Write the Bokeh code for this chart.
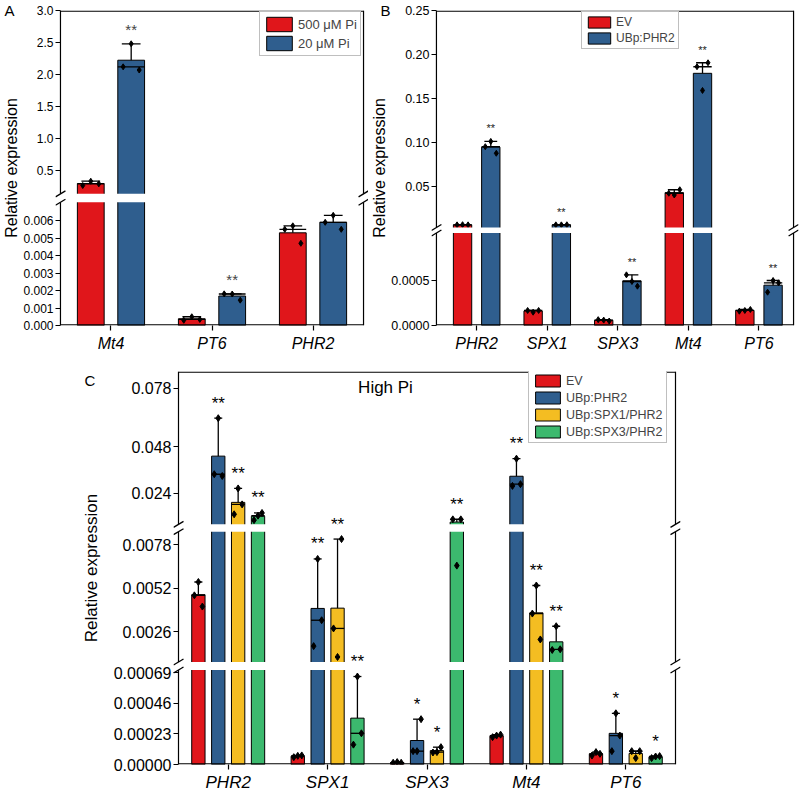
import numpy as np
from bokeh.plotting import figure
from bokeh.models import (Range1d, LinearAxis, FixedTicker, CustomJSTickFormatter,
                          BoxAnnotation, PolyAnnotation, Label, Legend, LegendItem,
                          ColumnDataSource)
from bokeh.layouts import column, row
from bokeh.core.properties import value
from bokeh.embed import file_html
from bokeh.resources import INLINE

FONT = "Liberation Sans"

# ---------------- Panel A data ----------------
A_genes = ["Mt4", "PT6", "PHR2"]
A_series = ["500 μM Pi", "20 μM Pi"]
A_pts_500 = [[0.266, 0.333, 0.292], [0.00030, 0.00050, 0.00035], [0.0055, 0.0057, 0.0047]]
A_pts_20 = [[2.12, 2.48, 2.07], [0.00181, 0.00180, 0.00145], [0.0059, 0.0063, 0.0055]]
A_sig_500 = ["", "", ""]
A_sig_20 = ["**", "**", ""]
A_seg_ranges = [(0.0, 0.00705), (0.136, 3.0)]
A_ticks_low = [0.000, 0.001, 0.002, 0.003, 0.004, 0.005, 0.006]
A_ticks_high = [0.5, 1.0, 1.5, 2.0, 2.5, 3.0]

# ---------------- Panel B data ----------------
B_genes = ["PHR2", "SPX1", "SPX3", "Mt4", "PT6"]
B_series = ["EV", "UBp:PHR2"]
B_pts_EV = [[0.0060, 0.0062, 0.0060], [0.000167, 0.000148, 0.000167],
            [0.000065, 0.000060, 0.000050], [0.042, 0.040, 0.046],
            [0.000159, 0.000167, 0.000178]]
B_pts_PHR2 = [[0.095, 0.101, 0.0875], [0.0060, 0.0060, 0.0061],
              [0.000563, 0.000489, 0.000437], [0.186, 0.159, 0.1905],
              [0.00037, 0.00050, 0.000474]]
B_sig_EV = ["", "", "", "", ""]
B_sig_PHR2 = ["**", "**", "**", "**", "**"]
B_seg_ranges = [(0.0, 0.001028), (0.003, 0.25)]
B_ticks_low = [0.0000, 0.0005]
B_ticks_high = [0.05, 0.10, 0.15, 0.20, 0.25]

# ---------------- Panel C data ----------------
C_genes = ["PHR2", "SPX1", "SPX3", "Mt4", "PT6"]
C_series = ["EV", "UBp:PHR2", "UBp:SPX1/PHR2", "UBp:SPX3/PHR2"]
C_pts_EV = [[0.00478, 0.00558, 0.00411], [0.000055, 0.000065, 0.000068],
            [0.000013, 0.000018, 0.000013], [0.000205, 0.000217, 0.000224],
            [0.000067, 0.000093, 0.000080]]
C_pts_PHR2 = [[0.0339, 0.0627, 0.0330], [0.00174, 0.00696, 0.00329],
              [0.00010, 0.00010, 0.00034], [0.0279, 0.0419, 0.0288],
              [0.00010, 0.000384, 0.000217]]
C_pts_SPX1 = [[0.0133, 0.0266, 0.0184], [0.0028, 0.00109, 0.00815],
              [0.000090, 0.000093, 0.00013], [0.00369, 0.00537, 0.00214],
              [0.00010, 0.000048, 0.00010]]
C_pts_SPX3 = [[0.0103, 0.0126, 0.0140], [0.000149, 0.00066, 0.000234],
              [0.0107, 0.00656, 0.0107], [0.00151, 0.00293, 0.00155],
              [0.000048, 0.000060, 0.000063]]
C_sig_EV = ["", "", "", "", ""]
C_sig_PHR2 = ["**", "**", "*", "**", "*"]
C_sig_SPX1 = ["**", "**", "*", "**", ""]
C_sig_SPX3 = ["**", "**", "**", "**", "*"]
C_seg_ranges = [(0.0, 0.000709), (0.000789, 0.008592), (0.008143, 0.0867)]
C_ticks_low = [0.0, 0.00023, 0.00046, 0.00069]
C_ticks_mid = [0.0026, 0.0052, 0.0078]
C_ticks_high = [0.024, 0.048, 0.078]

RED, BLUE, YELLOW, GREEN = "#E0161B", "#2F5E8E", "#F4BD22", "#3CB96E"

JS = """
let b = 0, d = Infinity;
for (let i = 0; i < pos.length; i++) { const e = Math.abs(pos[i] - tick); if (e < d) { d = e; b = i; } }
return lab[b];
"""
PAD = 5  # px between frame edge and drawn axis box


def line(p, xs, ys, w=1.2):
    p.add_layout(PolyAnnotation(xs=list(xs), ys=list(ys), fill_color=None, fill_alpha=0,
                                line_color="black", line_alpha=1, line_width=w))


def make_panel(genes, series, colors, pts, sigs, seg_vals, seg_fracs, seg_ticks, seg_fmts,
               W, Hc, borders, xr, offsets, bw, cap_frac, pt_size, tick_fs, xlab_fs, xlab_so,
               ylab_fs, ylab_so, star_fs, star_off, star_color, letter, letter_off, letter_so):
    bl, br, bt, bb = borders
    fw = W - bl - br
    H = Hc - bt - bb
    x0, x1 = xr
    ppu = (fw - 2 * PAD) / (x1 - x0)
    p = figure(width=W, height=Hc, x_range=Range1d(x0 - PAD / ppu, x1 + PAD / ppu),
               y_range=Range1d(0, H), x_axis_type=None, y_axis_type=None,
               output_backend="svg", toolbar_location=None, min_border_left=bl,
               min_border_right=br, min_border_top=bt, min_border_bottom=bb)
    p.outline_line_color = None
    p.title.text = letter
    p.title.align = "left"
    p.title.vertical_align = "bottom"
    p.title.offset = letter_off
    p.title.standoff = letter_so
    p.title.text_font = FONT
    p.title.text_font_size = "15px"
    p.title.text_font_style = "normal"
    p.title.text_color = "black"

    segs, extra = [], {}
    for i, ((lo, hi), (flo, fhi)) in enumerate(zip(seg_vals, seg_fracs)):
        plo, phi = flo * H, fhi * H
        k = (hi - lo) / (phi - plo)
        name = "s%d" % i
        extra[name] = Range1d(lo - plo * k, hi + (H - phi) * k)
        segs.append(dict(lo=lo, hi=hi, plo=plo, phi=phi, k=k, name=name))
    p.extra_y_ranges = extra
    n = len(segs)
    for i, s in enumerate(segs):
        s["clo"] = s["lo"] - (s["plo"] - segs[i - 1]["phi"]) / 2 * s["k"] if i > 0 else s["lo"]
        s["chi"] = s["hi"] + (segs[i + 1]["plo"] - s["phi"]) / 2 * s["k"] if i < n - 1 else s["hi"]

    def seg_of(v):
        for s in segs:
            if s["clo"] <= v <= s["chi"]:
                return s
        return segs[-1]

    bars = []
    for j in range(len(series)):
        for g in range(len(genes)):
            v = np.array(pts[j][g], dtype=float)
            bars.append(dict(j=j, x=g + offsets[j], mean=v.mean(), med=float(np.median(v)),
                             mx=v.max(), pts=v, sig=sigs[j][g]))

    legend_r = {}
    for s in segs:
        for j in range(len(series)):
            bs = [b for b in bars if b["j"] == j and b["mean"] > s["lo"]]
            src = ColumnDataSource(dict(x=[b["x"] for b in bs],
                                        top=[min(b["mean"], s["chi"]) for b in bs],
                                        bottom=[s["clo"]] * len(bs)))
            r = p.vbar(x="x", top="top", bottom="bottom", width=bw, source=src,
                       y_range_name=s["name"], fill_color=colors[j], line_color="black",
                       line_width=1)
            legend_r.setdefault(j, r)

    for s in segs:
        X0, X1, Y0, Y1 = [], [], [], []
        px, py = [], []
        sx, sy, st = [], [], []
        for b in bars:
            ya, yb = max(b["mean"], s["clo"]), min(b["mx"], s["chi"])
            if yb > ya:
                X0.append(b["x"]); X1.append(b["x"]); Y0.append(ya); Y1.append(yb)
            if seg_of(b["mx"]) is s:
                X0.append(b["x"] - cap_frac * bw / 2); X1.append(b["x"] + cap_frac * bw / 2)
                Y0.append(b["mx"]); Y1.append(b["mx"])
                if b["sig"]:
                    sx.append(b["x"]); sy.append(b["mx"]); st.append(b["sig"])
            if seg_of(b["med"]) is s:
                X0.append(b["x"] - bw / 2); X1.append(b["x"] + bw / 2)
                Y0.append(b["med"]); Y1.append(b["med"])
            for q, v in enumerate(b["pts"]):
                if seg_of(v) is s:
                    px.append(b["x"] + (q - 1) * 0.3 * bw); py.append(v)
        p.segment(x0=X0, y0=Y0, x1=X1, y1=Y1, y_range_name=s["name"],
                  line_color="black", line_width=1.3)
        p.scatter(x=px, y=py, marker="diamond", size=pt_size, fill_color="black",
                  line_color="black", y_range_name=s["name"])
        if sx:
            p.text(x=sx, y=sy, text=st, y_range_name=s["name"], text_align="center",
                   text_baseline="alphabetic", text_font=value(FONT),
                   text_font_size=value("%dpx" % star_fs), y_offset=star_off,
                   text_color=star_color, level="overlay")

    vpos, labs = [], []
    for s, ticks, fmt in zip(segs, seg_ticks, seg_fmts):
        for t in ticks:
            vpos.append(s["plo"] + (t - s["lo"]) / s["k"])
            labs.append(fmt % t)
    yax = LinearAxis(ticker=FixedTicker(ticks=vpos),
                     formatter=CustomJSTickFormatter(args=dict(pos=vpos, lab=labs), code=JS))
    xax = LinearAxis(ticker=FixedTicker(ticks=list(range(len(genes)))),
                     major_label_overrides={i: g for i, g in enumerate(genes)})
    for ax in (yax, xax):
        ax.axis_line_color = None
        ax.major_tick_line_width = 1.2
        ax.major_tick_line_color = "black"
        ax.minor_tick_out = 0
        ax.minor_tick_in = 0
        ax.major_label_text_font = FONT
        ax.major_label_text_color = "black"
    yax.major_tick_in = PAD
    yax.major_tick_out = 0
    yax.major_label_standoff = 2
    yax.major_label_text_font_size = "%gpx" % tick_fs
    yax.axis_label = "Relative expression"
    yax.axis_label_text_font = FONT
    yax.axis_label_text_font_size = "%dpx" % ylab_fs
    yax.axis_label_text_font_style = "normal"
    yax.axis_label_text_color = "black"
    yax.axis_label_standoff = ylab_so
    xax.major_tick_in = 0
    xax.major_tick_out = 5
    xax.major_label_standoff = xlab_so
    xax.major_label_text_font_size = "%dpx" % xlab_fs
    xax.major_label_text_font_style = "italic"
    p.add_layout(yax, "left")
    p.add_layout(xax, "below")

    # gaps in the bars
    for i in range(n - 1):
        g0, g1 = segs[i]["phi"], segs[i + 1]["plo"]
        p.add_layout(BoxAnnotation(bottom=g0, top=g1, fill_color="white", fill_alpha=1,
                                   line_color=None))
    # axis box, interrupted at the breaks
    line(p, [x0, x1], [0.6, 0.6])
    line(p, [x0, x1], [H - 0.6, H - 0.6])
    for i, s in enumerate(segs):
        ya = 0 if i == 0 else s["plo"]
        yb = H if i == n - 1 else s["phi"]
        for xa in (x0, x1):
            line(p, [xa, xa], [ya, yb])
    for i in range(n - 1):
        for xa in (x0, x1):
            for yy in (segs[i]["phi"], segs[i + 1]["plo"]):
                line(p, [xa - 5 / ppu, xa + 5 / ppu], [yy - 3, yy + 3], 1.3)
    return p, legend_r, ppu, H


def add_legend(p, series, legend_r, loc, fs, gw, gh, spacing):
    lg = Legend(items=[LegendItem(label=s, renderers=[legend_r[j]]) for j, s in enumerate(series)],
                location=loc, label_text_font=FONT, label_text_font_size=fs,
                glyph_width=gw, glyph_height=gh, label_height=gh, spacing=spacing,
                padding=3, margin=0, label_standoff=3,
                border_line_color="#808080", border_line_width=1.2,
                background_fill_color="white", background_fill_alpha=1)
    p.add_layout(lg, "center")


# ---------------- Panel A ----------------
pA, lrA, ppuA, HA = make_panel(
    A_genes, A_series, [RED, BLUE], [A_pts_500, A_pts_20], [A_sig_500, A_sig_20],
    A_seg_ranges, [(0.0, 0.3914), (0.418, 1.0)], [A_ticks_low, A_ticks_high], ["%.3f", "%.1f"],
    W=368, Hc=354, borders=(53, 0, 10, 29), xr=(-0.5, 2.5), offsets=[-0.2, 0.2], bw=0.265,
    cap_frac=0.7, pt_size=6, tick_fs=12, xlab_fs=16, xlab_so=4, ylab_fs=16, ylab_so=0,
    star_fs=15, star_off=-14, star_color="#444444", letter="A", letter_off=-51, letter_so=-16)
add_legend(pA, A_series, lrA, (204, 269), "13px", 32, 18, 1)

# ---------------- Panel B ----------------
pB, lrB, ppuB, HB = make_panel(
    B_genes, B_series, [RED, BLUE], [B_pts_EV, B_pts_PHR2], [B_sig_EV, B_sig_PHR2],
    B_seg_ranges, [(0.0, 0.2937), (0.3111, 1.0)], [B_ticks_low, B_ticks_high], ["%.4f", "%.2f"],
    W=432, Hc=354, borders=(59, 2, 10, 29), xr=(-0.57, 4.49), offsets=[-0.2, 0.2], bw=0.26,
    cap_frac=0.7, pt_size=6, tick_fs=12.5, xlab_fs=16, xlab_so=4, ylab_fs=16, ylab_so=0,
    star_fs=11, star_off=-13, star_color="#222222", letter="B", letter_off=-51, letter_so=-16)
add_legend(pB, B_series, lrB, (150, 276), "12px", 28, 14, 2)

# ---------------- Panel C ----------------
pC, lrC, ppuC, HC = make_panel(
    C_genes, C_series, [RED, BLUE, YELLOW, GREEN], [C_pts_EV, C_pts_PHR2, C_pts_SPX1, C_pts_SPX3],
    [C_sig_EV, C_sig_PHR2, C_sig_SPX1, C_sig_SPX3],
    C_seg_ranges, [(0.0, 0.2405), (0.2608, 0.5924), (0.6111, 1.0)],
    [C_ticks_low, C_ticks_mid, C_ticks_high], ["%.5f", "%.4f", "%.3f"],
    W=685, Hc=440, borders=(173, 5, 17, 28), xr=(-0.5, 4.5), offsets=[-0.3, -0.1, 0.1, 0.3],
    bw=0.134, cap_frac=0.6, pt_size=7, tick_fs=16, xlab_fs=17, xlab_so=3, ylab_fs=17,
    ylab_so=10, star_fs=17, star_off=-15, star_color="black", letter="C", letter_off=-89,
    letter_so=-34)
add_legend(pC, C_series, lrC, (355, 321), "12.5px", 31, 15, 2)
pC.add_layout(Label(x=-0.5 + 207 / ppuC, y=HC - 16, text="High Pi", text_font=FONT,
                    text_font_size="17px", text_color="black", text_align="center",
                    text_baseline="middle"))

layout = column(row(pA, pB), pC)
open("out.html", "w").write(file_html(layout, INLINE, title="Relative expression"))
